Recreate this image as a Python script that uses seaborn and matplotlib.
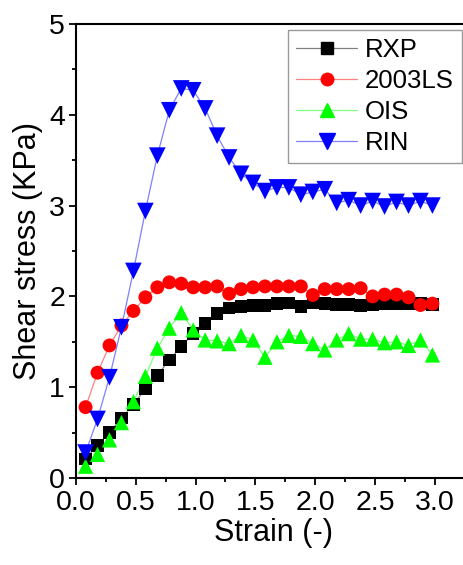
import matplotlib
matplotlib.use("Agg")
import matplotlib.pyplot as plt
import seaborn as sns
import pandas as pd
import numpy as np
from matplotlib.lines import Line2D
from matplotlib.ticker import MultipleLocator

sns.set_style("ticks")
plt.rcParams['font.family'] = ['Liberation Sans', 'DejaVu Sans']
plt.rcParams['text.color'] = 'black'
plt.rcParams['axes.labelcolor'] = 'black'
plt.rcParams['xtick.color'] = 'black'
plt.rcParams['ytick.color'] = 'black'

strain = [0.08, 0.18, 0.28, 0.38, 0.48, 0.58, 0.68, 0.78, 0.88, 0.98,
          1.08, 1.18, 1.28, 1.38, 1.48, 1.58, 1.68, 1.78, 1.88, 1.98,
          2.08, 2.18, 2.28, 2.38, 2.48, 2.58, 2.68, 2.78, 2.88, 2.98]

rxp = [0.21, 0.36, 0.50, 0.66, 0.81, 0.98, 1.13, 1.30, 1.45, 1.59,
       1.70, 1.81, 1.87, 1.89, 1.90, 1.90, 1.92, 1.93, 1.89, 1.93,
       1.92, 1.91, 1.91, 1.90, 1.91, 1.92, 1.92, 1.92, 1.92, 1.91]
ls2003 = [0.78, 1.16, 1.46, 1.68, 1.84, 1.99, 2.10, 2.155, 2.14, 2.10,
          2.10, 2.11, 2.03, 2.08, 2.10, 2.11, 2.11, 2.11, 2.11, 2.015,
          2.08, 2.08, 2.08, 2.09, 2.00, 2.02, 2.02, 1.99, 1.905, 1.92]
ois = [0.13, 0.26, 0.42, 0.61, 0.84, 1.12, 1.43, 1.65, 1.82, 1.63,
       1.52, 1.51, 1.48, 1.57, 1.52, 1.33, 1.50, 1.57, 1.56, 1.48,
       1.41, 1.52, 1.59, 1.53, 1.53, 1.49, 1.50, 1.46, 1.52, 1.355]
rin = [0.28, 0.65, 1.11, 1.66, 2.28, 2.94, 3.55, 4.05, 4.29, 4.27,
       4.07, 3.77, 3.53, 3.35, 3.25, 3.16, 3.20, 3.20, 3.12, 3.15,
       3.18, 3.03, 3.06, 3.00, 3.05, 2.99, 3.04, 3.00, 3.05, 3.00]

series_names = ["RXP", "2003LS", "OIS", "RIN"]
series_vals = [rxp, ls2003, ois, rin]
marker_colors = ["#000000", "#ff0000", "#00ff00", "#0000ff"]
line_colors = ["#808080", "#ff8080", "#80ff80", "#8080ff"]
markers = ["s", "o", "^", "v"]
msizes = [9, 10, 11, 12]

rows = []
for n, v in zip(series_names, series_vals):
    for x, y in zip(strain, v):
        rows.append({"Strain": x, "Stress": y, "Sample": n})
df = pd.DataFrame(rows)

fig = plt.figure(figsize=(4.64, 5.65), dpi=100)
ax = fig.add_axes([76/464, 87/565, 3.3*119.6/464, 454/565])

sns.lineplot(data=df, x="Strain", y="Stress", hue="Sample",
             palette=dict(zip(series_names, line_colors)),
             linewidth=0.9, legend=False, ax=ax, zorder=1, sort=False,
             estimator=None)
for i, n in enumerate(series_names):
    sub = df[df["Sample"] == n]
    sns.scatterplot(data=sub, x="Strain", y="Stress", marker=markers[i],
                    color=marker_colors[i], s=msizes[i]**2, linewidth=0,
                    edgecolor="none", legend=False, ax=ax, zorder=3+i)

ax.set_xlim(0, 3.3)
ax.set_ylim(0, 5)
ax.xaxis.set_major_locator(MultipleLocator(0.5))
ax.xaxis.set_minor_locator(MultipleLocator(0.25))
ax.yaxis.set_major_locator(MultipleLocator(1))
ax.yaxis.set_minor_locator(MultipleLocator(0.5))
ax.set_xticks([0, 0.5, 1.0, 1.5, 2.0, 2.5, 3.0])
ax.set_xticklabels(["0.0", "0.5", "1.0", "1.5", "2.0", "2.5", "3.0"])
ax.tick_params(axis="both", which="major", direction="out", length=5,
               width=1.3, labelsize=20.5, colors="black")
ax.tick_params(axis="x", which="major", pad=4)
ax.tick_params(axis="y", which="major", pad=3)
ax.tick_params(axis="both", which="minor", direction="out", length=3,
               width=1.3, colors="black")
for s in ["left", "bottom", "top", "right"]:
    ax.spines[s].set_linewidth(1.5)
    ax.spines[s].set_color("black")
ax.set_xlabel("Strain (-)", fontsize=22, labelpad=1, color="black")
ax.set_ylabel("Shear stress (KPa)", fontsize=22, labelpad=4, color="black")

handles = [Line2D([0], [0], color=line_colors[i], lw=0.9, marker=markers[i],
                  markerfacecolor=marker_colors[i], markeredgecolor=marker_colors[i],
                  markersize=msizes[i]-1)
           for i in range(4)]
leg = ax.legend(handles, series_names, loc="upper left", fontsize=18.5,
                frameon=True, fancybox=False, handlelength=2.4,
                handletextpad=0.3, borderpad=0.3, labelspacing=0.28,
                borderaxespad=0)
leg.set_bbox_to_anchor((288/464, 1 - 30/565), transform=fig.transFigure)
leg.get_frame().set_edgecolor("#808080")
leg.get_frame().set_linewidth(1.0)
for t in leg.get_texts():
    t.set_color("black")

fig.savefig("out.png", dpi=100)
